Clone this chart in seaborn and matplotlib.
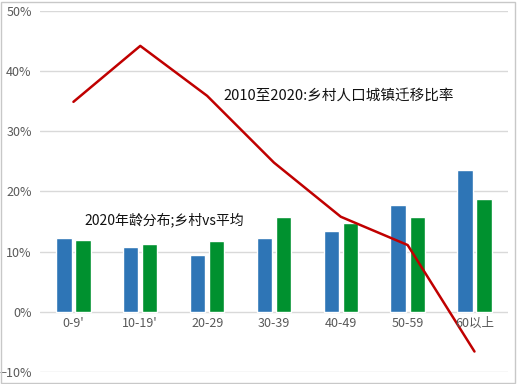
import pandas as pd
import matplotlib.pyplot as plt
import seaborn as sns
from matplotlib.patches import Rectangle
from matplotlib.ticker import PercentFormatter

ages = ["0-9'", "10-19'", "20-29", "30-39", "40-49", "50-59", "60以上"]
rural = [12.3, 10.7, 9.5, 12.3, 13.5, 17.7, 23.6]
average = [12.0, 11.2, 11.8, 15.8, 14.7, 15.8, 18.7]
migration = [34.9, 44.2, 35.9, 24.8, 15.8, 11.1, -6.6]

df = pd.DataFrame({
    "age": ages * 2,
    "share": rural + average,
    "group": ["乡村"] * len(ages) + ["平均"] * len(ages),
})

sns.set_style("white")
plt.rcParams["font.family"] = ["Noto Sans CJK SC", "DejaVu Sans"]

fig = plt.figure(figsize=(5.17, 3.84), dpi=100)
ax = fig.add_axes([0.0774, 0.0313, 0.905, 0.9401])

sns.barplot(data=df, x="age", y="share", hue="group", order=ages,
            palette=["#2E75B6", "#00912F"], saturation=1, width=0.57, gap=0.2,
            legend=False, ax=ax)
sns.lineplot(x=range(len(ages)), y=migration, color="#C00000",
             linewidth=1.8, ax=ax)

ax.set_ylim(-10, 50)
ax.set_xlim(-0.5, len(ages) - 0.5)
ax.set_yticks(range(-10, 51, 10))
ax.yaxis.set_major_formatter(PercentFormatter(decimals=0))
ax.grid(axis="y", color="#D9D9D9", linewidth=1)
ax.set_axisbelow(True)
for s in ax.spines.values():
    s.set_visible(False)
ax.set_xlabel("")
ax.set_ylabel("")
ax.tick_params(axis="y", labelsize=9, labelcolor="#595959", length=0, pad=6)
ax.set_xticks([])

# category labels sit just under the 0% line
for i, a in enumerate(ages):
    ax.text(i, -2.0, a, ha="center", va="center", fontsize=9, color="#595959")

ax.text(2.25, 35.9, "2010至2020:乡村人口城镇迁移比率", fontsize=10.5,
        color="#111111", va="center")
ax.text(0.17, 15.3, "2020年龄分布;乡村vs平均", fontsize=10,
        color="#111111", va="center")

fig.patches.append(Rectangle((0.002, 0.003), 0.995, 0.993, transform=fig.transFigure,
                             fill=False, edgecolor="#C8C8C8", linewidth=1))

fig.savefig("out.png", dpi=100)
